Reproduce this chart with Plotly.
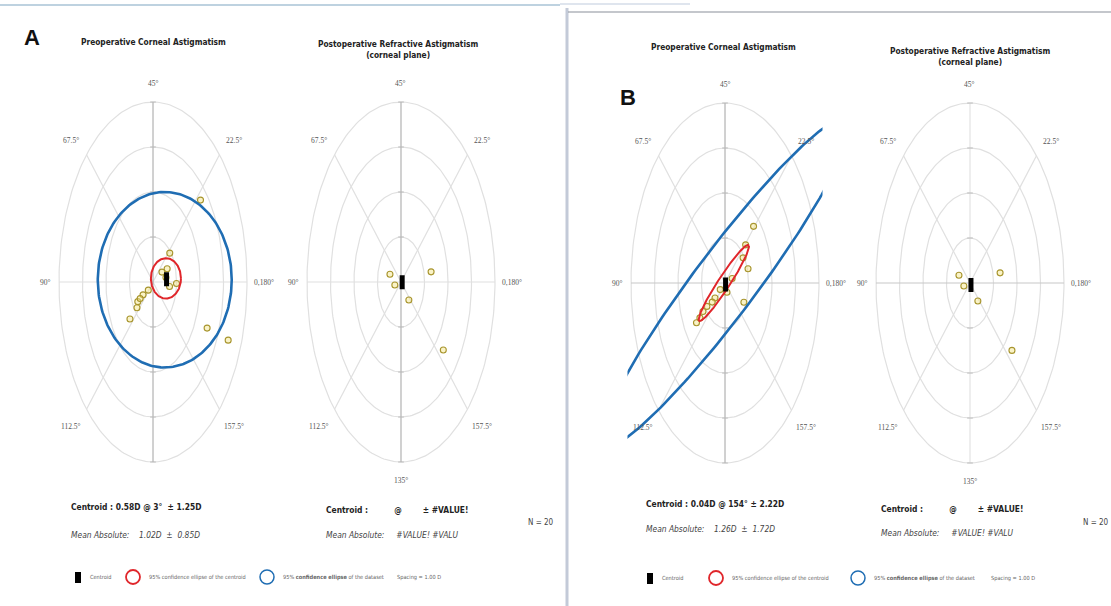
import numpy as np
import plotly.graph_objects as go

W, H = 1111, 606

# ---------------- data (magnitude in D, axis in degrees) ----------------
preA_mag = [2.72, 0.96, 0.44, 1.00, 0.27, 0.51, 0.78, 0.89, 1.28, 2.52, 3.45, 0.56, 0.71, 0.67, 0.66]
preA_axis = [21, 21, 15, 179, 111, 107, 107, 110, 110, 168, 169, 5, 176, 13, 107]

postA_mag = [0.50, 0.27, 1.30, 0.52, 2.35]
postA_axis = [80, 97, 5, 155, 160]

preB_mag = [1.75, 1.22, 0.95, 1.03, 0.32, 0.22, 0.54, 0.93, 1.32, 0.91, 0.69, 1.13, 1.50, 0.25]
preB_axis = [23, 22, 18, 9, 9, 146, 109, 107, 108, 166, 109, 107, 108, 108]

postB_mag = [0.50, 0.27, 1.30, 0.52, 2.33]
postB_axis = [80, 97, 5, 155, 160]

# centroids: magnitude, axis
centroid_mag = [0.58, 0.05, 0.04, 0.06]
centroid_axis = [3, 178, 154, 157]

# ellipses: centre x, centre y (D, double-angle plane), semi-axis a, semi-axis b, tilt (deg)
ciA_centroid = [0.55, 0.08, 0.64, 0.45, 0]
ciA_dataset = [0.50, 0.05, 2.85, 1.95, 0]
ciB_centroid = [-0.05, 0.0, 1.35, 0.19, 38]
ciB_dataset = [0.0, 0.0, 6.4, 0.95, 34]

ring_values = [1, 2, 3, 4]
label_angles = [0, 22.5, 45, 67.5, 90, 112.5, 135, 157.5]
label_texts = ["0,180°", "22.5°", "45°", "67.5°", "90°", "112.5°", "135°", "157.5°"]

titles = ["Preoperative Corneal Astigmatism",
          "Postoperative Refractive Astigmatism<br>(corneal plane)",
          "Preoperative Corneal Astigmatism",
          "Postoperative Refractive Astigmatism<br>(corneal plane)"]

statsA = ["<b>Centroid : 0.58D @ 3°  ± 1.25D</b>", "<i>Mean Absolute:    1.02D  ±  0.85D</i>"]
statsA2 = ["<b>Centroid :          @        ± #VALUE!</b>", "<i>Mean Absolute:     #VALUE! #VALU</i>"]
statsB = ["<b>Centroid : 0.04D @ 154° ± 2.22D</b>", "<i>Mean Absolute:    1.26D  ±  1.72D</i>"]
statsB2 = ["<b>Centroid :          @        ± #VALUE!</b>", "<i>Mean Absolute:     #VALUE! #VALU</i>"]
n_text = "N = 20"
legend_texts = ["Centroid", "95% confidence ellipse of the centroid",
                "95% <b>confidence ellipse</b> of the dataset", "Spacing = 1.00 D"]

# ---------------- layout constants ----------------
SX, SY = 23.5, 45.0     # px per dioptre
XR, YR = 4.15, 4.1
NARROW = "Liberation Sans Narrow, DejaVu Sans Condensed, Arial Narrow, sans-serif"
SERIF = "Liberation Serif, DejaVu Serif, serif"
GRID = "#e0e0e0"
PT_LINE = "#a8952e"
PT_FILL = "rgba(245,228,130,0.45)"

panels = [
    dict(cx=153, cy=282, mag=preA_mag, ax=preA_axis, ell=[ciA_centroid, ciA_dataset], lbl135=False,
         hline=False, vline=True),
    dict(cx=401, cy=282, mag=postA_mag, ax=postA_axis, ell=[], lbl135=True, hline=False, vline=True),
    dict(cx=725, cy=283, mag=preB_mag, ax=preB_axis, ell=[ciB_centroid, ciB_dataset], lbl135=False,
         hline=True, vline=True),
    dict(cx=970, cy=283, mag=postB_mag, ax=postB_axis, ell=[], lbl135=True, hline=True, vline=False),
]

fig = go.Figure()
layout = dict(width=W, height=H, margin=dict(l=0, r=0, t=0, b=0),
              paper_bgcolor="white", plot_bgcolor="white", showlegend=False)
annotations = []
shapes = []


def to_xy(mag, axis):
    m = np.asarray(mag, float)
    a = np.deg2rad(2 * np.asarray(axis, float))
    return m * np.cos(a), m * np.sin(a)


def ellipse(p, n=240):
    cx, cy, a, b, phi = p
    t = np.linspace(0, 2 * np.pi, n)
    ph = np.deg2rad(phi)
    x = cx + a * np.cos(t) * np.cos(ph) - b * np.sin(t) * np.sin(ph)
    y = cy + a * np.cos(t) * np.sin(ph) + b * np.sin(t) * np.cos(ph)
    return x, y


def ann(px, py, text, size=9, color="#222222", xanchor="left", family=NARROW):
    annotations.append(dict(x=px / W, y=1 - py / H, xref="paper", yref="paper", text=text,
                            showarrow=False, xanchor=xanchor, yanchor="middle", borderpad=0,
                            font=dict(family=family, size=size, color=color)))


for i, p in enumerate(panels):
    k = "" if i == 0 else str(i + 1)
    xa, ya = "x" + k, "y" + k
    cx, cy = p["cx"], p["cy"]
    layout["xaxis" + k] = dict(domain=[(cx - XR * SX) / W, (cx + XR * SX) / W], range=[-XR, XR],
                               visible=False, anchor=ya, fixedrange=True)
    layout["yaxis" + k] = dict(domain=[1 - (cy + YR * SY) / H, 1 - (cy - YR * SY) / H], range=[-YR, YR],
                               visible=False, anchor=xa, fixedrange=True)
    rmax = max(ring_values)
    t = np.linspace(0, 2 * np.pi, 241)
    for r in ring_values:
        fig.add_trace(go.Scatter(x=r * np.cos(t), y=r * np.sin(t), mode="lines", xaxis=xa, yaxis=ya,
                                 line=dict(color=GRID, width=1.2), hoverinfo="skip"))
    for ang in [45, 135]:
        c, s = np.cos(np.deg2rad(ang)), np.sin(np.deg2rad(ang))
        fig.add_trace(go.Scatter(x=[-rmax * c, rmax * c], y=[-rmax * s, rmax * s], mode="lines",
                                 xaxis=xa, yaxis=ya, line=dict(color=GRID, width=1.2), hoverinfo="skip"))
    fig.add_trace(go.Scatter(x=[-rmax, rmax], y=[0, 0], mode="lines", xaxis=xa, yaxis=ya,
                             line=dict(color="#c8c8c8" if p["hline"] else GRID, width=1.1), hoverinfo="skip"))
    fig.add_trace(go.Scatter(x=[0, 0], y=[-rmax, rmax], mode="lines", xaxis=xa, yaxis=ya,
                             line=dict(color="#ababab" if p["vline"] else GRID, width=1.1), hoverinfo="skip"))
    for r in ring_values:
        for sgn in (1, -1):
            fig.add_trace(go.Scatter(x=[-0.12, 0.12], y=[sgn * r, sgn * r], mode="lines", xaxis=xa, yaxis=ya,
                                     line=dict(color="#bdbdbd", width=1), hoverinfo="skip"))
    px_, py_ = to_xy(p["mag"], p["ax"])
    fig.add_trace(go.Scatter(x=px_, y=py_, mode="markers", xaxis=xa, yaxis=ya,
                             marker=dict(symbol="circle", size=6, color=PT_FILL,
                                         line=dict(color=PT_LINE, width=1.1))))
    if p["ell"]:
        ex, ey = ellipse(p["ell"][0])
        fig.add_trace(go.Scatter(x=ex, y=ey, mode="lines", xaxis=xa, yaxis=ya,
                                 line=dict(color="#e0262b", width=2), hoverinfo="skip"))
        ex, ey = ellipse(p["ell"][1])
        fig.add_trace(go.Scatter(x=ex, y=ey, mode="lines", xaxis=xa, yaxis=ya,
                                 line=dict(color="#1f6db3", width=2.6), hoverinfo="skip"))
    cxv, cyv = to_xy([centroid_mag[i]], [centroid_axis[i]])
    fig.add_trace(go.Scatter(x=cxv, y=cyv, mode="markers", xaxis=xa, yaxis=ya,
                             marker=dict(symbol="line-ns", size=10, color="black",
                                         line=dict(color="black", width=5))))
    # angle labels (placed around the outer ring)
    for ang, txt in zip(label_angles, label_texts):
        if ang == 135 and not p["lbl135"]:
            continue
        a2 = np.deg2rad(2 * ang)
        lx, ly = 4.45 * np.cos(a2), 4.42 * np.sin(a2)
        xanch = "center"
        if ang == 0:
            lx, xanch = 4.25, "left"
        elif ang == 90:
            lx, xanch = -4.3, "right"
        elif ang in (22.5, 157.5):
            lx = 3.45
        elif ang in (67.5, 112.5):
            lx = -3.5
        if ang in (22.5, 67.5):
            ly = 3.15
        elif ang in (112.5, 157.5):
            ly = -3.2
        ann(cx + lx * SX, cy - ly * SY, txt, size=7.5, color="#555555", xanchor=xanch, family=SERIF)

# titles
ann(153, 42, "<b>" + titles[0] + "</b>", size=8.3, xanchor="center")
ann(398, 49, "<b>" + titles[1] + "</b>", size=8.3, xanchor="center")
ann(723, 47, "<b>" + titles[2] + "</b>", size=8.3, xanchor="center")
ann(970, 57, "<b>" + titles[3] + "</b>", size=8.3, xanchor="center")
ann(32, 38, "<b>A</b>", size=22, color="#111111", xanchor="center", family="Liberation Sans, Arial, sans-serif")
ann(628, 97, "<b>B</b>", size=22, color="#111111", xanchor="center", family="Liberation Sans, Arial, sans-serif")

# statistics
ann(70, 507, statsA[0], size=8.4)
ann(70, 535, statsA[1], size=8.4, color="#444444")
ann(325, 510, statsA2[0], size=8.4)
ann(325, 535, statsA2[1], size=8.4, color="#444444")
ann(527, 522, n_text, size=8, color="#444444")
ann(645, 504, statsB[0], size=8.4)
ann(645, 529, statsB[1], size=8.4, color="#444444")
ann(880, 509, statsB2[0], size=8.4)
ann(880, 533, statsB2[1], size=8.4, color="#444444")
ann(1082, 522, n_text, size=8, color="#444444")

# legend rows
for (sq, red, blue, sp, ly) in [(78, 133, 267, 396, 577), (650, 716, 858, 990, 578)]:
    shapes.append(dict(type="rect", xref="paper", yref="paper", x0=(sq - 3) / W, x1=(sq + 3) / W,
                       y0=1 - (ly + 6) / H, y1=1 - (ly - 5) / H, fillcolor="black", line=dict(width=0)))
    ann(sq + 11, ly, legend_texts[0], size=5.6, color="#666666")
    shapes.append(dict(type="circle", xref="paper", yref="paper", x0=(red - 7) / W, x1=(red + 7) / W,
                       y0=1 - (ly + 7) / H, y1=1 - (ly - 7) / H, line=dict(color="#e0262b", width=1.8)))
    ann(red + 15, ly, legend_texts[1], size=5.6, color="#666666")
    shapes.append(dict(type="circle", xref="paper", yref="paper", x0=(blue - 7) / W, x1=(blue + 7) / W,
                       y0=1 - (ly + 7) / H, y1=1 - (ly - 7) / H, line=dict(color="#1f6db3", width=1.5)))
    ann(blue + 15, ly, legend_texts[2], size=5.6, color="#666666")
    ann(sp, ly, legend_texts[3], size=5.6, color="#666666")

# frame lines of the two composite panels
shapes.append(dict(type="line", xref="paper", yref="paper", x0=0, x1=560 / W, y0=1 - 5 / H, y1=1 - 5 / H,
                   line=dict(color="#a9c3d6", width=1.5)))
shapes.append(dict(type="line", xref="paper", yref="paper", x0=560 / W, x1=690 / W, y0=1 - 4 / H, y1=1 - 4 / H,
                   line=dict(color="#d5dde8", width=1.5)))
shapes.append(dict(type="line", xref="paper", yref="paper", x0=567 / W, x1=567 / W, y0=0, y1=1 - 8 / H,
                   line=dict(color="#c3cad8", width=3)))
shapes.append(dict(type="line", xref="paper", yref="paper", x0=568 / W, x1=1, y0=1 - 12 / H, y1=1 - 12 / H,
                   line=dict(color="#8a8f99", width=1.2)))

layout["annotations"] = annotations
layout["shapes"] = shapes
fig.update_layout(**layout)
fig.write_html("out.html", config={"displayModeBar": False},
               post_script="document.body.style.margin='0px';document.body.style.overflow='hidden';")
